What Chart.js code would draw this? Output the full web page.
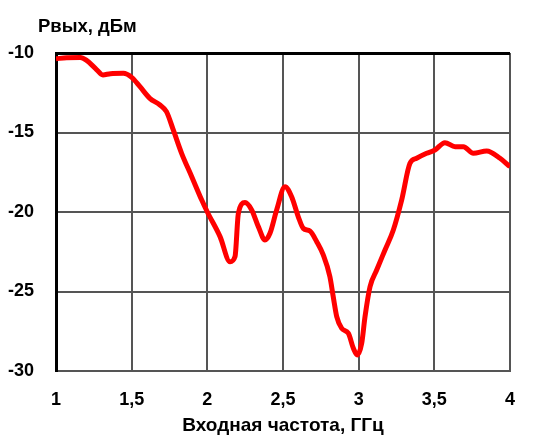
<!DOCTYPE html>
<html>
<head>
<meta charset="utf-8">
<script src="https://cdn.jsdelivr.net/npm/chart.js@4"></script>
<style>
  html, body { margin: 0; padding: 0; background: #fff; }
</style>
</head>
<body>
<canvas id="chart" width="540" height="441"></canvas>
<script>
// Input frequency, GHz
const freqs = [
  1.00, 1.07, 1.16, 1.20, 1.26, 1.31, 1.36, 1.445, 1.50, 1.555,
  1.62, 1.687, 1.73, 1.775, 1.83, 1.897, 1.963, 2.00, 2.084, 2.15,
  2.183, 2.205, 2.249, 2.293, 2.337, 2.381, 2.414, 2.458, 2.513, 2.557,
  2.601, 2.634, 2.678, 2.723, 2.766, 2.81, 2.832, 2.855, 2.888, 2.932,
  2.965, 2.991, 3.02, 3.042, 3.075, 3.119, 3.174, 3.229, 3.284, 3.339,
  3.383, 3.449, 3.504, 3.57, 3.637, 3.692, 3.758, 3.846, 3.934, 4.00
]
// Output power, dBm
const powerDbm = [
  -10.36, -10.3, -10.28, -10.45, -10.96, -11.38, -11.3, -11.28, -11.53, -12.12,
  -12.85, -13.27, -13.69, -14.84, -16.31, -17.78, -19.25, -20.0, -21.55, -23.13,
  -22.8, -20.09, -19.41, -19.87, -20.92, -21.76, -21.34, -19.87, -18.41, -19.04,
  -20.3, -21.03, -21.2, -21.87, -22.7, -24.07, -25.33, -26.58, -27.32, -27.63,
  -28.57, -28.99, -28.26, -26.58, -24.7, -23.65, -22.39, -21.13, -19.25, -16.94,
  -16.62, -16.31, -16.1, -15.64, -15.89, -15.89, -16.31, -16.16, -16.62, -17.15
]
const xTickLabels = ["1", "1,5", "2", "2,5", "3", "3,5", "4"]
const yTickLabels = ["-30", "-25", "-20", "-15", "-10"]

const FONT = "'Liberation Sans', Arial, sans-serif"

// y-axis caption drawn horizontally above the plot
const topCaption = {
  id: "topCaption",
  afterDraw(chart) {
    const ctx = chart.ctx
    ctx.save()
    ctx.font = "bold 18.5px " + FONT
    ctx.fillStyle = "#000"
    ctx.textAlign = "left"
    ctx.textBaseline = "alphabetic"
    ctx.fillText("Рвых, дБм", 38, 32)
    ctx.restore()
  }
}

new Chart(document.getElementById("chart"), {
  type: "line",
  data: {
    datasets: [{
      data: freqs.map((f, i) => ({ x: f, y: powerDbm[i] })),
      borderColor: "#ff0000",
      borderWidth: 5,
      pointRadius: 0,
      cubicInterpolationMode: "monotone",
      fill: false
    }]
  },
  options: {
    responsive: false,
    animation: false,
    devicePixelRatio: 1,
    layout: { padding: { top: 53, right: 30, left: 0, bottom: 0 } },
    plugins: {
      legend: { display: false },
      tooltip: { enabled: false }
    },
    scales: {
      x: {
        type: "linear",
        min: 1,
        max: 4,
        afterFit: (s) => { s.height = 70 },
        ticks: {
          stepSize: 0.5,
          padding: 18,
          color: "#000",
          font: { family: FONT, size: 18, weight: "bold" },
          callback: (v) => xTickLabels[Math.round((v - 1) * 2)]
        },
        grid: { color: "#555", lineWidth: 2, drawTicks: false },
        border: { color: "#555", width: 2 },
        title: {
          display: true,
          text: "Входная частота, ГГц",
          color: "#000",
          font: { family: FONT, size: 19, weight: "bold" },
          padding: { top: 5 }
        }
      },
      y: {
        min: -30,
        max: -10,
        afterFit: (s) => { s.width = 56 },
        ticks: {
          stepSize: 5,
          padding: 22,
          color: "#000",
          font: { family: FONT, size: 18, weight: "bold" },
          callback: (v) => yTickLabels[Math.round((v + 30) / 5)]
        },
        grid: {
          color: (c) => (c.tick && c.tick.value === -10 ? "#000" : "#555"),
          lineWidth: (c) => (c.tick && c.tick.value === -10 ? 3 : 2),
          drawTicks: false
        },
        border: { color: "#000", width: 3 }
      }
    }
  },
  plugins: [topCaption]
})
</script>
</body>
</html>
